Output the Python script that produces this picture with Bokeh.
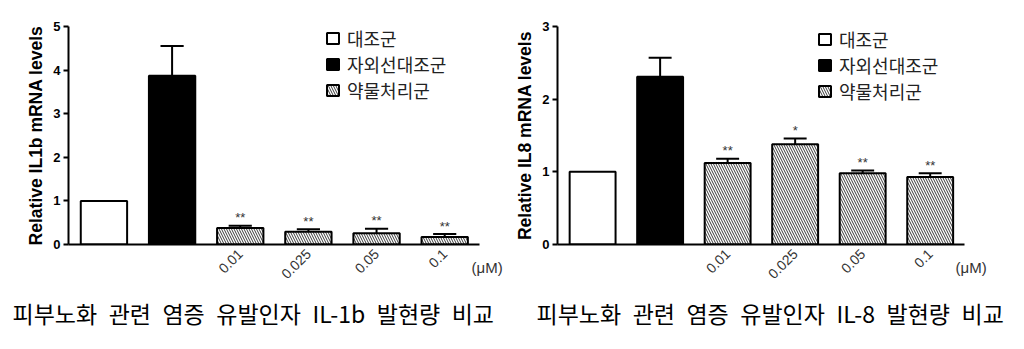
import math
from bokeh.plotting import figure
from bokeh.models import (Range1d, FixedTicker, Legend, LegendItem, ColumnDataSource, Title)
from bokeh.layouts import row
from bokeh.embed import file_html
from bokeh.resources import INLINE
from bokeh.core.properties import value

groups = ["대조군", "자외선대조군", "약물처리군"]
doses = ["0.01", "0.025", "0.05", "0.1"]
unit_label = "(μM)"

il1b_mean = [1.0, 3.87, 0.38, 0.29, 0.26, 0.17]
il1b_err = [0.0, 0.68, 0.05, 0.06, 0.10, 0.07]
il1b_sig = ["", "", "**", "**", "**", "**"]

il8_mean = [1.0, 2.31, 1.12, 1.38, 0.98, 0.93]
il8_err = [0.0, 0.26, 0.06, 0.08, 0.04, 0.05]
il8_sig = ["", "", "**", "*", "**", "**"]

SP = "\u2002"
captions = [SP.join(["피부노화", "관련", "염증", "유발인자", "IL-1b", "발현량", "비교"]),
            SP.join(["피부노화", "관련", "염증", "유발인자", "IL-8", "발현량", "비교"])]
ylabels = ["Relative IL1b mRNA levels", "Relative IL8 mRNA levels"]

BAR_W = 0.68
CAP_HALF = 0.17
X_START, X_AXIS_END, X_END = -0.52, 5.51, 5.76


def make_chart(mean, err, sig, ylabel, caption, ymax, borders, legend_loc, cap_offset, unit_offset):
    left, right, top, bottom = borders
    p = figure(width=512, height=349, output_backend="svg", toolbar_location=None,
               x_range=Range1d(X_START, X_END), y_range=Range1d(0, ymax),
               min_border_left=left, min_border_right=right,
               min_border_top=top, min_border_bottom=bottom)
    p.outline_line_color = None
    p.xgrid.visible = False
    p.ygrid.visible = False
    p.background_fill_color = "white"
    p.border_fill_color = "white"

    xs = list(range(len(mean)))
    upper = [m + e for m, e in zip(mean, err)]
    ex = [x for x, e in zip(xs, err) if e > 0]
    em = [m for m, e in zip(mean, err) if e > 0]
    eu = [u for u, e in zip(upper, err) if e > 0]
    p.segment(x0=ex, y0=em, x1=ex, y1=eu, line_color="black", line_width=2)
    p.segment(x0=[x - CAP_HALF for x in ex], y0=eu, x1=[x + CAP_HALF for x in ex], y1=eu,
              line_color="black", line_width=2)

    r_ctrl = p.vbar(x=xs[0:1], top=mean[0:1], width=BAR_W, fill_color="white",
                    line_color="black", line_width=2)
    r_uv = p.vbar(x=xs[1:2], top=mean[1:2], width=BAR_W, fill_color="black",
                  line_color="black", line_width=2)
    r_trt = p.vbar(x=xs[2:], top=mean[2:], width=BAR_W, fill_color="white",
                   hatch_pattern="left_diagonal_line", hatch_color="#3a3a3a",
                   hatch_scale=5, hatch_weight=1,
                   line_color="black", line_width=2)

    src = ColumnDataSource(dict(x=xs, y=upper, t=sig))
    p.text(x="x", y="y", text="t", source=src, text_align="center",
           text_baseline="middle", y_offset=-8, text_font_size="13px",
           text_color="#333333", text_font=value("Liberation Sans"))

    legend = Legend(items=[LegendItem(label=groups[0], renderers=[r_ctrl]),
                           LegendItem(label=groups[1], renderers=[r_uv]),
                           LegendItem(label=groups[2], renderers=[r_trt])],
                    location=legend_loc, padding=0, margin=0, spacing=-4,
                    glyph_width=15, glyph_height=14, label_height=20,
                    label_standoff=7, border_line_color=None,
                    background_fill_alpha=0,
                    label_text_font="Noto Sans CJK KR", label_text_font_size="18px",
                    label_text_color="#222222")
    p.add_layout(legend, "center")

    ya = p.yaxis[0]
    ya.ticker = FixedTicker(ticks=list(range(0, ymax + 1)))
    ya.axis_line_width = 2
    ya.major_tick_line_width = 2
    ya.major_tick_out = 5
    ya.major_tick_in = 0
    ya.minor_tick_line_color = None
    ya.major_label_text_font = "Liberation Sans"
    ya.major_label_text_font_style = "bold"
    ya.major_label_text_font_size = "13px"
    ya.major_label_text_color = "black"
    ya.major_label_standoff = 3
    ya.axis_label = ylabel
    ya.axis_label_text_font = "Liberation Sans"
    ya.axis_label_text_font_style = "bold"
    ya.axis_label_text_font_size = "17.5px"
    ya.axis_label_text_color = "black"
    ya.axis_label_standoff = 4

    xa = p.xaxis[0]
    xa.bounds = (X_START, X_AXIS_END)
    xa.ticker = FixedTicker(ticks=xs[2:])
    xa.major_label_overrides = {x: d for x, d in zip(xs[2:], doses)}
    xa.major_label_orientation = math.pi / 4
    xa.axis_line_width = 2
    xa.major_tick_line_color = None
    xa.minor_tick_line_color = None
    xa.major_label_text_font = "Liberation Sans"
    xa.major_label_text_font_size = "14px"
    xa.major_label_text_color = "#333333"
    xa.major_label_standoff = 1

    # unit text just under the axis line (negative standoff pulls it up)
    p.add_layout(Title(text=unit_label, align="left", offset=unit_offset, standoff=-56,
                       vertical_align="top",
                       text_font="Liberation Sans", text_font_style="normal",
                       text_font_size="15px", text_color="#333333"), "below")

    p.add_layout(Title(text=caption, align="left", offset=cap_offset, standoff=15,
                       text_font="Noto Sans CJK KR", text_font_style="normal",
                       text_font_size="23px", text_color="black"), "below")
    return p


p1 = make_chart(il1b_mean, il1b_err, il1b_sig, ylabels[0], captions[0], 5,
                (68, 16, 26, 103), (257, 141), -56, 403)
p2 = make_chart(il8_mean, il8_err, il8_sig, ylabels[1], captions[1], 3,
                (41, 43, 25, 105), (260, 140), -21, 398)

layout = row(p1, p2)
open("out.html", "w").write(file_html(layout, INLINE))
